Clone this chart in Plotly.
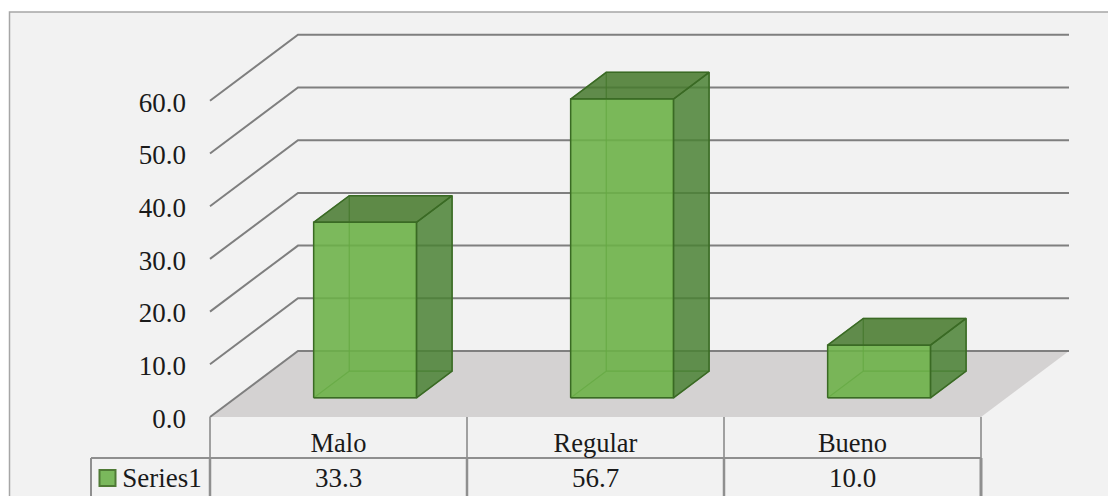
import plotly.graph_objects as go

# Chart data
categories = ["Malo", "Regular", "Bueno"]
values = [33.3, 56.7, 10.0]
series_name = "Series1"
tick_values = [0, 10, 20, 30, 40, 50, 60]

# Scale of the drawing: pixels per category and per value unit
W, H = 1108, 496
PX_CAT = 257.0
PX_VAL = 5.27
ORIGIN_X, ORIGIN_Y = 210.0, 417.0

# Oblique projection: a point at depth 1 sits this far right and up
DEPTH_X = 88.0 / PX_CAT
DEPTH_Y = 66.0 / PX_VAL
BAR_WIDTH = 0.40
BAR_SHIFT = 0.004
BAR_D0, BAR_D1 = 0.29, 0.695
WALL_RIGHT = 3.0

ROW1_Y = (ORIGIN_Y - 458.0) / PX_VAL
ROW_BOTTOM = (ORIGIN_Y - 496.0) / PX_VAL
LABEL_Y = (ORIGIN_Y - 445.5) / PX_VAL
VALUE_Y = (ORIGIN_Y - 480.0) / PX_VAL
KEY_X = (107.5 - ORIGIN_X) / PX_CAT
KEY_Y = (ORIGIN_Y - 478.0) / PX_VAL
NAME_CENTER_X = (162.0 - ORIGIN_X) / PX_CAT
TABLE_LEFT = (91.0 - ORIGIN_X) / PX_CAT
TICK_LABEL_X = (186.0 - ORIGIN_X) / PX_CAT
TICK_LABEL_DROP = 4.0 / PX_VAL

GRID = "#7f7f7f"
TABLE = "#8f8f8f"
FONT = "Liberation Serif"
INK = "#1a1a1a"


def project(cat, val, depth):
    return cat + depth * DEPTH_X, val + depth * DEPTH_Y


def polygon(points):
    xs, ys = zip(*[project(*p) for p in points])
    return list(xs) + [xs[0]], list(ys) + [ys[0]]


fig = go.Figure()


def add_face(points, fill, edge, width=1.5):
    xs, ys = polygon(points)
    fig.add_trace(go.Scatter(x=xs, y=ys, mode="lines", fill="toself", fillcolor=fill,
                             line=dict(color=edge, width=width), hoverinfo="skip",
                             showlegend=False))


def add_line(xs, ys, color, width):
    fig.add_trace(go.Scatter(x=xs, y=ys, mode="lines", line=dict(color=color, width=width),
                             hoverinfo="skip", showlegend=False))


def add_text(xs, ys, labels, size, position="middle center"):
    fig.add_trace(go.Scatter(x=xs, y=ys, mode="text", text=labels, textposition=position,
                             textfont=dict(family=FONT, size=size, color=INK),
                             hoverinfo="skip", showlegend=False))


# Gridlines running along the side wall and then the back wall
for v in tick_values[1:]:
    a = project(0, v, 0)
    b = project(0, v, 1)
    c = project(WALL_RIGHT, v, 1)
    add_line([a[0], b[0], c[0]], [a[1], b[1], c[1]], GRID, 2)

# Floor of the plot
add_face([(0, 0, 0), (0, 0, 1), (WALL_RIGHT, 0, 1), (WALL_RIGHT, 0, 0)], "#d4d2d2", "rgba(0,0,0,0)", 0)
a0, b0, c0 = project(0, 0, 0), project(0, 0, 1), project(WALL_RIGHT, 0, 1)
add_line([a0[0], b0[0], c0[0]], [a0[1], b0[1], c0[1]], GRID, 2)

# Translucent boxes: hidden faces first, visible faces on top
for i, v in enumerate(values):
    l = i + 0.5 - BAR_WIDTH / 2 + BAR_SHIFT
    r = i + 0.5 + BAR_WIDTH / 2 + BAR_SHIFT
    inner_edge = "rgba(62,120,40,0.55)"
    outer_edge = "#3a6a24"
    add_face([(l, 0, BAR_D1), (r, 0, BAR_D1), (r, v, BAR_D1), (l, v, BAR_D1)],
             "rgba(112,173,71,0.30)", inner_edge, 1.2)
    add_face([(l, 0, BAR_D0), (l, 0, BAR_D1), (l, v, BAR_D1), (l, v, BAR_D0)],
             "rgba(112,173,71,0.20)", inner_edge, 1.2)
    add_face([(l, 0, BAR_D0), (r, 0, BAR_D0), (r, 0, BAR_D1), (l, 0, BAR_D1)],
             "rgba(112,173,71,0.30)", inner_edge, 1.2)
    add_face([(r, 0, BAR_D0), (r, 0, BAR_D1), (r, v, BAR_D1), (r, v, BAR_D0)],
             "rgba(70,125,50,0.78)", outer_edge)
    add_face([(l, v, BAR_D0), (r, v, BAR_D0), (r, v, BAR_D1), (l, v, BAR_D1)],
             "rgba(70,120,45,0.82)", outer_edge)
    add_face([(l, 0, BAR_D0), (r, 0, BAR_D0), (r, v, BAR_D0), (l, v, BAR_D0)],
             "rgba(108,178,72,0.85)", outer_edge)

# Data table below the plot
for k in range(4):
    add_line([k, k], [0, ROW1_Y], "#a0a0a0", 2)
    add_line([k, k], [ROW1_Y, ROW_BOTTOM], TABLE, 3 if k == 3 else 2.5)
add_line([TABLE_LEFT, 3], [ROW1_Y, ROW1_Y], TABLE, 2)
add_line([TABLE_LEFT, TABLE_LEFT], [ROW1_Y, ROW_BOTTOM], TABLE, 2)

centers = [i + 0.5 for i in range(len(categories))]
add_text(centers, [LABEL_Y] * 3, categories, 26.5)
add_text(centers, [VALUE_Y] * 3, [f"{v:.1f}" for v in values], 27)
add_text([NAME_CENTER_X], [VALUE_Y], [series_name], 27)

# Value axis labels, right-aligned beside the side wall
add_text([TICK_LABEL_X] * len(tick_values), [v - TICK_LABEL_DROP for v in tick_values],
         [f"{v:.1f}" for v in tick_values], 27, "middle left")

fig.add_trace(go.Scatter(x=[KEY_X], y=[KEY_Y], mode="markers",
                         marker=dict(symbol="square", size=16, color="#7ab85c",
                                     line=dict(color="#4f7a35", width=2)),
                         hoverinfo="skip", showlegend=False))

fig.update_layout(
    width=W, height=H, autosize=False,
    margin=dict(l=0, r=0, t=0, b=0, pad=0),
    paper_bgcolor="white", plot_bgcolor="rgba(0,0,0,0)",
    showlegend=False,
    xaxis=dict(visible=False, range=[-ORIGIN_X / PX_CAT, (W - ORIGIN_X) / PX_CAT], fixedrange=True),
    yaxis=dict(visible=False, range=[(ORIGIN_Y - H) / PX_VAL, ORIGIN_Y / PX_VAL], fixedrange=True),
    # Chart frame: light panel with a thin border on the top and left
    shapes=[
        dict(type="rect", xref="paper", yref="paper", layer="below",
             x0=9.5 / W, x1=1.01, y0=-0.01, y1=1 - 12.0 / H,
             fillcolor="#f2f2f2", line=dict(color="#a6a6a6", width=1.5)),
    ],
)

fig.write_html("out.html", config={"displayModeBar": False})
